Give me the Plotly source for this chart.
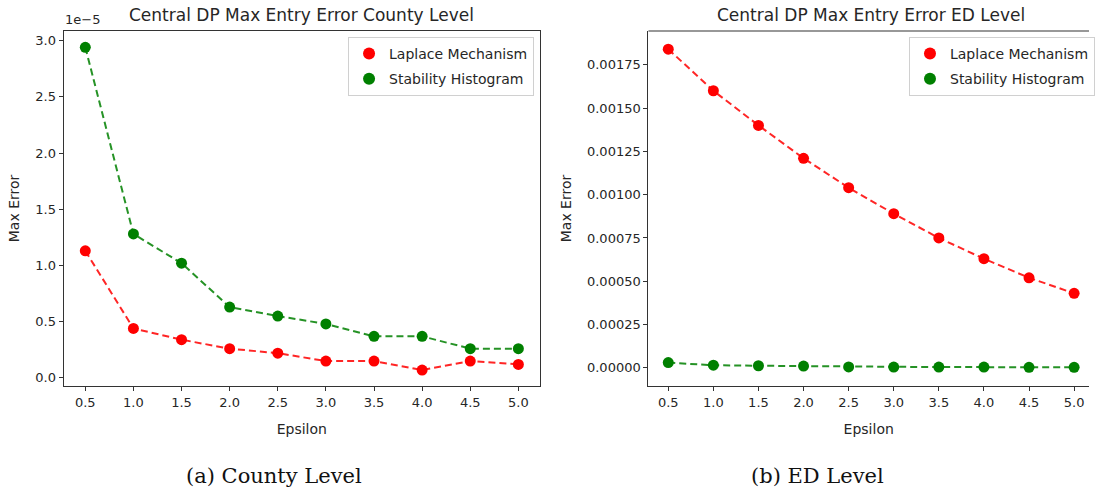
import plotly.graph_objects as go

# Privacy budgets on the x axis
epsilon = [0.5, 1.0, 1.5, 2.0, 2.5, 3.0, 3.5, 4.0, 4.5, 5.0]

# County level max entry error (x 1e-5)
county_laplace = [1.13, 0.44, 0.34, 0.26, 0.22, 0.15, 0.15, 0.07, 0.15, 0.12]
county_stability = [2.94, 1.28, 1.02, 0.63, 0.55, 0.48, 0.37, 0.37, 0.26, 0.26]
county_scale = 1e-5

# ED level max entry error
ed_laplace = [0.00184, 0.00160, 0.00140, 0.00121, 0.00104, 0.00089, 0.00075, 0.00063, 0.00052, 0.00043]
ed_stability = [0.000030, 0.000015, 0.000012, 0.000010, 0.000005, 0.000004, 0.000004, 0.000004, 0.000003, 0.000003]

series_names = ["Laplace Mechanism", "Stability Histogram"]
colors = ["#ff0000", "#008000"]

county_ticks = [0.0, 0.5, 1.0, 1.5, 2.0, 2.5, 3.0]
ed_ticks = [0.0, 0.00025, 0.00050, 0.00075, 0.00100, 0.00125, 0.00150, 0.00175]
x_ticks = [0.5, 1.0, 1.5, 2.0, 2.5, 3.0, 3.5, 4.0, 4.5, 5.0]

titles = ["Central DP Max Entry Error County Level", "Central DP Max Entry Error ED Level"]
captions = ["(a) County Level", "(b) ED Level"]

W, H = 1095, 491
FONT = "DejaVu Sans"
TXT = "#262626"


def px_x(v):
    return v / W


def px_y(v):
    return 1 - v / H


fig = go.Figure()

county_data = [[v * county_scale for v in county_laplace],
               [v * county_scale for v in county_stability]]
ed_data = [ed_laplace, ed_stability]

for panel, (data, xa, ya, leg) in enumerate([
        (county_data, "x", "y", "legend"),
        (ed_data, "x2", "y2", "legend2")]):
    for name, vals, col in zip(series_names, data, colors):
        group = f"{leg}-{name}"
        # dashed connecting line
        fig.add_trace(go.Scatter(
            x=epsilon, y=vals, mode="lines", xaxis=xa, yaxis=ya,
            line=dict(color=col, width=2, dash="7px,4px"),
            opacity=0.85, showlegend=False, hoverinfo="skip",
            legendgroup=group, legend=leg))
        # point markers (legend entries)
        fig.add_trace(go.Scatter(
            x=epsilon, y=vals, mode="markers", xaxis=xa, yaxis=ya,
            marker=dict(color=col, size=11, line=dict(width=0)),
            name=name, legend=leg, legendgroup=group))

axis_common = dict(
    showline=True, linecolor="#333333", linewidth=1.2,
    ticks="outside", ticklen=4, tickwidth=1, tickcolor="#333333",
    showgrid=False, zeroline=False,
    tickfont=dict(family=FONT, size=13, color=TXT),
)
title_font = dict(family=FONT, size=14, color=TXT)

# Axis boxes in pixels
L1, R1, T1, B1 = 64, 543, 31, 386
L2, R2, T2, B2 = 652, 1095, 31, 386

county_scaled_ticks = [t * county_scale for t in county_ticks]

legend_common = dict(
    yanchor="top", bgcolor="rgba(255,255,255,0.85)", bordercolor="#d0d0d0",
    borderwidth=1, font=dict(family=FONT, size=14, color=TXT),
    itemsizing="constant", tracegroupgap=4,
)

fig.update_layout(
    width=W, height=H,
    margin=dict(l=0, r=0, t=0, b=0),
    paper_bgcolor="white", plot_bgcolor="white",
    font=dict(family=FONT, color=TXT),
    xaxis=dict(domain=[px_x(L1), px_x(R1)], range=[0.275, 5.225],
               tickvals=x_ticks, ticktext=[f"{t:.1f}" for t in x_ticks],
               mirror=True, anchor="y",
               title=dict(text="Epsilon", font=title_font, standoff=15),
               **axis_common),
    yaxis=dict(domain=[px_y(B1), px_y(T1)], range=[-0.072e-5, 3.085e-5],
               tickvals=county_scaled_ticks, ticktext=[f"{t:.1f}" for t in county_ticks],
               mirror=True, anchor="x",
               title=dict(text="Max Error", font=title_font, standoff=12),
               **axis_common),
    xaxis2=dict(domain=[px_x(L2), px_x(R2)], range=[0.28, 5.165],
                tickvals=x_ticks, ticktext=[f"{t:.1f}" for t in x_ticks],
                anchor="y2",
                title=dict(text="Epsilon", font=title_font, standoff=15),
                **axis_common),
    yaxis2=dict(domain=[px_y(B2), px_y(T2)], range=[-0.000105, 0.001945],
                tickvals=ed_ticks, ticktext=[f"{t:.5f}" for t in ed_ticks],
                anchor="x2",
                title=dict(text="Max Error", font=title_font, standoff=12),
                **axis_common),
    legend=dict(x=px_x(R1 - 6), y=px_y(T1 + 6), xanchor="right", **legend_common),
    legend2=dict(x=px_x(L2 + 262), y=px_y(T2 + 6), xanchor="left", **legend_common),
    showlegend=True,
)

# top spine of the ED panel (its right side runs past the page edge)
fig.add_shape(type="line", xref="paper", yref="paper",
              x0=px_x(L2), x1=1.0, y0=px_y(T2), y1=px_y(T2),
              line=dict(color="#333333", width=1.2))

annotations = []
for title, cx in zip(titles, [(L1 + R1) / 2, (L2 + 1100) / 2]):
    annotations.append(dict(text=title, x=px_x(cx), y=px_y(15), xref="paper", yref="paper",
                            showarrow=False, xanchor="center", yanchor="middle",
                            font=dict(family=FONT, size=17, color=TXT)))
for cap, cx in zip(captions, [276, 822]):
    annotations.append(dict(text=cap, x=px_x(cx), y=px_y(476), xref="paper", yref="paper",
                            showarrow=False, xanchor="center", yanchor="middle",
                            font=dict(family="DejaVu Serif", size=21, color="#111111")))
# scale offset text for the county panel
annotations.append(dict(text="1e\u22125", x=px_x(63), y=px_y(20), xref="paper", yref="paper",
                        showarrow=False, xanchor="left", yanchor="middle",
                        font=dict(family=FONT, size=13, color=TXT)))
fig.update_layout(annotations=annotations)

fig.write_html("out.html")
